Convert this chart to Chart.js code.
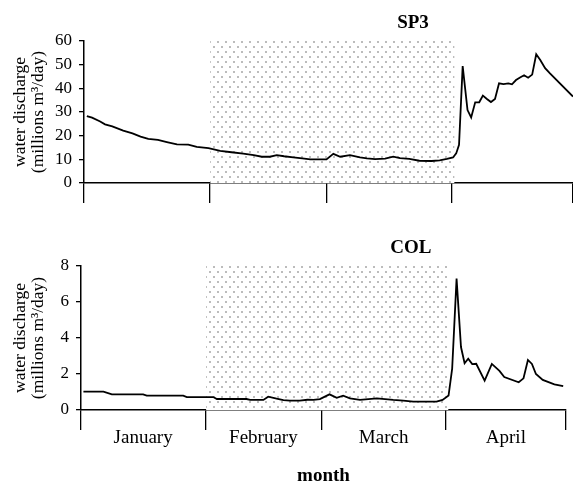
<!DOCTYPE html>
<html><head><meta charset="utf-8">
<script src="https://cdn.jsdelivr.net/npm/chart.js@4"></script>
<style>
html,body{margin:0;padding:0;background:#fff;}
#wrap{position:relative;width:573px;height:483px;overflow:hidden;background:#fff}
canvas{position:absolute;left:0}
</style></head><body>
<div id="wrap">
<canvas id="c1" width="573" height="215" style="top:0px"></canvas>
<canvas id="c2" width="573" height="253" style="top:230px"></canvas>
</div>
<script>
// ---- data (x = days since 1 January) ----
const months = ['January', 'February', 'March', 'April'];
const monthEdges = [0, 31, 60, 91, 121];
const shadeSpan = [31.2, 91.7];

const sp3Days = [0.7, 2, 4, 5.2, 7, 9.7, 12, 14, 15.9, 18.3, 20.5, 23, 25.8, 27.9, 30.8, 33.7, 36.5, 39.4, 42, 44, 46, 47.7, 49.5, 51.8, 54, 56, 60, 61.7, 63.4, 65.8, 68.3, 70, 72, 74.5, 76.5, 78.2, 80.5, 83, 86, 88, 89.8, 91.3, 92.1, 92.8, 93.7, 94.9, 95.8, 96.8, 97.8, 98.7, 99.7, 100.7, 101.7, 102.7, 103.8, 105, 105.9, 106.9, 107.9, 108.9, 109.9, 110.9, 111.9, 112.9, 114.1, 115.3, 121];
const sp3Values = [28.3, 27.6, 26.0, 24.8, 23.9, 22.1, 21.0, 19.6, 18.6, 18.2, 17.3, 16.3, 16.2, 15.3, 14.7, 13.6, 13.0, 12.4, 11.8, 11.1, 11.1, 11.8, 11.3, 10.8, 10.4, 10.0, 10.0, 12.3, 11.1, 11.8, 10.8, 10.4, 10.1, 10.3, 11.1, 10.5, 10.2, 9.4, 9.3, 9.6, 10.2, 10.8, 12.5, 16.1, 49.4, 30.8, 27.7, 34.1, 34.1, 36.9, 35.5, 34.2, 35.5, 42.1, 41.8, 42.1, 41.7, 43.5, 44.6, 45.5, 44.5, 45.8, 54.4, 52.0, 48.5, 46.3, 36.5];

const colDays = [0.6, 5.6, 7.7, 15.5, 16.4, 25.5, 26.4, 33, 33.9, 41.3, 42.2, 45.5, 46.7, 48.8, 50.5, 52.1, 54.6, 56.5, 58, 59.6, 62, 63.8, 65.4, 67.1, 69.6, 73.8, 77.9, 80.4, 82.9, 88.7, 90.2, 91.7, 92.6, 93.7, 94.8, 95.7, 96.6, 97.6, 98.6, 100.7, 102.5, 104.4, 105.6, 109.2, 110.4, 111.5, 112.5, 113.5, 115.2, 118.1, 120.3];
const colValues = [1.02, 1.02, 0.87, 0.87, 0.8, 0.8, 0.72, 0.72, 0.61, 0.61, 0.56, 0.56, 0.74, 0.63, 0.55, 0.52, 0.52, 0.57, 0.56, 0.61, 0.87, 0.68, 0.8, 0.65, 0.56, 0.65, 0.56, 0.52, 0.46, 0.46, 0.56, 0.8, 2.3, 7.3, 3.5, 2.6, 2.85, 2.55, 2.57, 1.63, 2.56, 2.17, 1.83, 1.54, 1.76, 2.78, 2.56, 2.0, 1.67, 1.43, 1.33];

const sp3Ticks = [0, 10, 20, 30, 40, 50, 60];
const colTicks = [0, 2, 4, 6, 8];
const yTitle = ['water discharge', '(millions m\u00B3/day)'];
const xTitle = 'month';

// ---- helpers ----
const SERIF = '"Liberation Serif", "Times New Roman", serif';

function dotPattern() {
  const c = document.createElement('canvas');
  c.width = 8; c.height = 10;
  const g = c.getContext('2d');
  g.fillStyle = '#fff'; g.fillRect(0, 0, 8, 10);
  g.fillStyle = '#bcbcbc';
  g.fillRect(1, 1, 2, 2);
  g.fillRect(5, 6, 2, 2);
  return g.createPattern(c, 'repeat');
}

const panelTitle = {
  id: 'panelTitle',
  afterDraw(chart, args, opts) {
    const {ctx, chartArea, scales} = chart;
    ctx.save();
    ctx.font = 'bold 19px ' + SERIF;
    ctx.fillStyle = '#000';
    ctx.textAlign = 'center';
    ctx.textBaseline = 'alphabetic';
    ctx.fillText(opts.text, scales.x.getPixelForValue(opts.at), chartArea.top - opts.gap);
    ctx.restore();
  }
};

function makeChart(id, cfg) {
  const pts = cfg.days.map((d, i) => ({x: d, y: cfg.values[i]}));
  const top = cfg.ticks[cfg.ticks.length - 1];
  const shade = shadeSpan.map(d => ({x: d, y: top}));
  const mids = [];
  for (let i = 0; i < months.length; i++) mids.push((monthEdges[i] + monthEdges[i + 1]) / 2);
  const xTickVals = cfg.showMonths ? monthEdges.concat(mids).sort((a, b) => a - b) : monthEdges.slice();
  return new Chart(document.getElementById(id), {
    type: 'line',
    data: {
      datasets: [
        {data: pts, borderColor: '#000', borderWidth: 1.8, pointRadius: 0, tension: 0, fill: false},
        {data: shade, borderWidth: 0, borderColor: 'rgba(0,0,0,0)', pointRadius: 0, fill: 'origin', backgroundColor: dotPattern()}
      ]
    },
    options: {
      responsive: false,
      animation: false,
      devicePixelRatio: 1,
      layout: {padding: cfg.padding},
      plugins: {
        legend: {display: false},
        tooltip: {enabled: false},
        panelTitle: {text: cfg.title, at: cfg.titleAt, gap: 13}
      },
      scales: {
        x: {
          type: 'linear',
          min: monthEdges[0],
          max: monthEdges[monthEdges.length - 1],
          afterBuildTicks: s => { s.ticks = xTickVals.map(v => ({value: v})); },
          afterFit: s => { s.height = cfg.xHeight; },
          ticks: {
            autoSkip: false,
            maxRotation: 0,
            padding: -3,
            color: '#000',
            font: {family: SERIF, size: 19},
            callback: v => {
              const k = mids.indexOf(v);
              return (cfg.showMonths && k >= 0) ? months[k] : '';
            }
          },
          grid: {
            drawOnChartArea: false,
            drawTicks: true,
            tickLength: 20,
            lineWidth: 1.3,
            color: c => (c.tick && monthEdges.includes(c.tick.value)) ? '#000' : 'rgba(0,0,0,0)'
          },
          border: {display: true, color: '#000', width: 1.5},
          title: {
            display: cfg.showMonths,
            text: xTitle,
            color: '#000',
            font: {family: SERIF, size: 19, weight: 'bold', lineHeight: 1},
            padding: {top: 0, bottom: -3}
          }
        },
        y: {
          min: cfg.ticks[0],
          max: top,
          afterBuildTicks: s => { s.ticks = cfg.ticks.map(v => ({value: v})); },
          afterFit: s => { s.width = cfg.yWidth; },
          ticks: {
            padding: 7,
            color: '#000',
            font: {family: SERIF, size: 17}
          },
          grid: {drawOnChartArea: false, drawTicks: true, tickLength: 5, color: '#000', lineWidth: 1.3},
          border: {display: true, color: '#000', width: 1.5},
          title: {
            display: true,
            text: yTitle,
            color: '#000',
            font: {family: SERIF, size: 17.5, lineHeight: 1},
            padding: {top: 12, bottom: 0}
          }
        }
      }
    },
    plugins: [panelTitle]
  });
}

makeChart('c1', {
  days: sp3Days, values: sp3Values, ticks: sp3Ticks, title: 'SP3', titleAt: 81.4,
  padding: {top: 41, left: 0, right: 0, bottom: 0}, yWidth: 84, xHeight: 32, showMonths: false
});
makeChart('c2', {
  days: colDays, values: colValues, ticks: colTicks, title: 'COL', titleAt: 82.3,
  padding: {top: 36, left: 0, right: 7, bottom: 0}, yWidth: 81, xHeight: 73, showMonths: true
});
</script>
</body></html>
